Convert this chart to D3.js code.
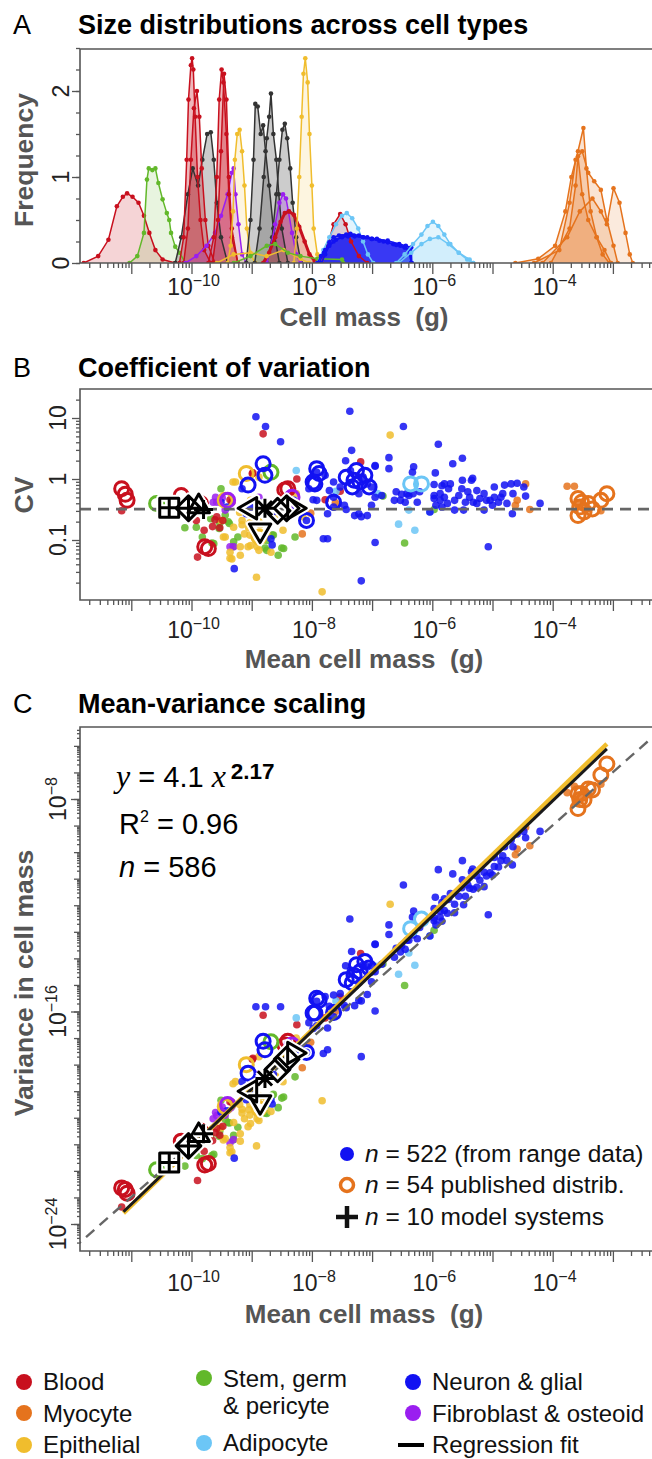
<!DOCTYPE html>
<html>
<head>
<meta charset="utf-8">
<script src="https://cdn.jsdelivr.net/npm/d3@7"></script>
<style>
  body { margin: 0; background: #fff; }
  svg text { font-family: "Liberation Sans", Arial, Helvetica, sans-serif; }
</style>
</head>
<body>
<div id="fig"></div>
<script>
// ---------- data (log10 mass in g, frequency) for panel A ----------
var distBloodWide = [[-11.79,0],[-11.55,0.08],[-11.38,0.27],[-11.24,0.66],[-11.14,0.77],[-11.07,0.81],[-10.98,0.77],[-10.88,0.70],[-10.79,0.55],[-10.70,0.35],[-10.60,0.15],[-10.48,0.04],[-10.27,0]];
var distStemA = [[-11.03,0],[-10.9,0.08],[-10.79,0.35],[-10.74,0.97],[-10.71,1.1],[-10.65,1.08],[-10.6,1.1],[-10.55,0.93],[-10.48,0.74],[-10.41,0.58],[-10.37,0.5],[-10.34,0.35],[-10.27,0.19],[-10.2,0.12],[-10.1,0]];
var distBloodA1 = [[-10.20,0],[-10.13,0.3],[-10.08,1.2],[-10.05,1.9],[-10.01,2.3],[-9.99,2.38],[-9.97,2.25],[-9.94,1.7],[-9.90,1.0],[-9.85,0.5],[-9.79,0.15],[-9.68,0]];
var distBloodA2 = [[-10.13,0],[-10.06,0.4],[-10.01,1.2],[-9.96,1.8],[-9.91,2.0],[-9.87,1.7],[-9.83,1.1],[-9.77,0.5],[-9.72,0.2],[-9.61,0]];
var distBloodA3 = [[-9.72,0],[-9.63,0.3],[-9.58,1.0],[-9.54,1.9],[-9.50,2.25],[-9.47,2.1],[-9.42,1.5],[-9.38,0.8],[-9.33,0.3],[-9.23,0]];
var distBloodA4 = [[-9.65,0],[-9.56,0.5],[-9.51,1.3],[-9.46,2.2],[-9.42,1.9],[-9.38,1.0],[-9.33,0.4],[-9.23,0]];
var distModel1 = [[-10.27,0],[-10.17,0.3],[-10.06,0.8],[-9.98,1.1],[-9.89,0.9],[-9.82,1.2],[-9.74,1.5],[-9.68,1.52],[-9.63,1.2],[-9.58,0.7],[-9.51,0.3],[-9.40,0]];
var distModel2 = [[-9.09,0],[-9.02,0.5],[-8.97,1.2],[-8.94,1.85],[-8.90,1.82],[-8.85,1.5],[-8.81,1.6],[-8.77,1.3],[-8.71,0.9],[-8.64,0.4],[-8.54,0]];
var distModel3 = [[-8.95,0],[-8.87,0.4],[-8.80,1.0],[-8.75,1.45],[-8.71,1.7],[-8.68,1.97],[-8.64,1.5],[-8.59,1.2],[-8.55,0.8],[-8.50,0.4],[-8.40,0]];
var distModel4 = [[-8.75,0],[-8.66,0.3],[-8.59,0.8],[-8.54,1.2],[-8.49,1.55],[-8.45,1.62],[-8.41,1.45],[-8.36,1.1],[-8.32,0.7],[-8.26,0.3],[-8.18,0]];
var distEpiA1 = [[-9.40,0],[-9.35,0.2],[-9.31,0.6],[-9.28,1.2],[-9.24,1.5],[-9.20,1.55],[-9.16,1.3],[-9.12,0.9],[-9.08,0.4],[-9.02,0.1],[-8.94,0]];
var distEpiA2 = [[-8.30,0],[-8.25,0.4],[-8.21,1.0],[-8.17,1.7],[-8.14,2.2],[-8.11,2.38],[-8.07,2.1],[-8.04,1.5],[-8.00,0.9],[-7.97,0.4],[-7.91,0.1],[-7.84,0]];
var distEpiA3 = [[-9.58,0],[-9.30,0.1],[-9.02,0.12],[-8.75,0.08],[-8.47,0.15],[-8.19,0.05],[-8.05,0]];
var distFibroA1 = [[-10.10,0],[-9.92,0.08],[-9.75,0.2],[-9.61,0.35],[-9.51,0.55],[-9.40,0.8],[-9.33,1.05],[-9.30,1.1],[-9.27,0.8],[-9.22,0.45],[-9.16,0.1],[-9.09,0]];
var distFibroA2 = [[-8.75,0],[-8.68,0.2],[-8.61,0.45],[-8.54,0.7],[-8.48,0.8],[-8.43,0.75],[-8.39,0.6],[-8.33,0.35],[-8.26,0.1],[-8.19,0]];
var distBloodA5 = [[-8.81,0],[-8.71,0.12],[-8.61,0.3],[-8.52,0.48],[-8.45,0.58],[-8.38,0.6],[-8.30,0.56],[-8.21,0.42],[-8.12,0.25],[-8.04,0.1],[-7.95,0.02],[-7.88,0]];
var distStemA2 = [[-9.30,0],[-9.02,0.08],[-8.75,0.2],[-8.61,0.22],[-8.40,0.12],[-8.19,0.08],[-7.91,0.05],[-7.50,0.04],[-7.48,0]];
var distAdipoA1 = [[-7.91,0],[-7.81,0.15],[-7.71,0.3],[-7.60,0.45],[-7.50,0.55],[-7.42,0.58],[-7.33,0.52],[-7.23,0.4],[-7.15,0.25],[-7.07,0.1],[-6.98,0]];
var distAdipoA2 = [[-6.60,0],[-6.46,0.1],[-6.32,0.22],[-6.18,0.33],[-6.08,0.43],[-5.99,0.48],[-5.90,0.43],[-5.80,0.33],[-5.70,0.22],[-5.56,0.12],[-5.42,0.04],[-5.32,0]];
var distAdipoA3 = [[-6.56,0],[-6.35,0.12],[-6.18,0.22],[-6.04,0.28],[-5.90,0.3],[-5.73,0.22],[-5.56,0.12],[-5.38,0.04],[-5.32,0]];
var distBloodA6 = [[-7.84,0],[-7.74,0.2],[-7.64,0.45],[-7.53,0.57],[-7.44,0.45],[-7.35,0.25],[-7.22,0.08],[-7.08,0]];
var distNeuronA1 = [[-7.91,0],[-7.85,0.08],[-7.78,0.15],[-7.71,0.24],[-7.64,0.3],[-7.55,0.32],[-7.43,0.33],[-7.30,0.32],[-7.15,0.3],[-7.0,0.28],[-6.81,0.25],[-6.65,0.22],[-6.53,0.2],[-6.45,0.18],[-6.39,0.15],[-6.35,0]];
var distNeuronA2 = [[-7.84,0],[-7.78,0.1],[-7.71,0.2],[-7.60,0.27],[-7.50,0.3],[-7.40,0.31],[-7.29,0.31],[-7.15,0.3],[-7.01,0.28],[-6.88,0.26],[-6.74,0.24],[-6.60,0.21],[-6.46,0.18],[-6.38,0.16],[-6.35,0]];
var distNeuronA3 = [[-7.88,0],[-7.80,0.12],[-7.72,0.2],[-7.64,0.25],[-7.50,0.31],[-7.36,0.34],[-7.22,0.32],[-7.08,0.3],[-6.92,0.28],[-6.74,0.26],[-6.55,0.22],[-6.44,0.2],[-6.35,0.18],[-6.34,0]];
var distMyoA1 = [[-4.62,0],[-4.24,0.05],[-3.96,0.2],[-3.79,0.6],[-3.69,1.0],[-3.58,1.3],[-3.49,1.57],[-3.44,1.1],[-3.37,0.6],[-3.27,0.3],[-3.17,0.1],[-3.06,0]];
var distMyoA2 = [[-4.31,0],[-3.89,0.15],[-3.72,0.7],[-3.62,1.2],[-3.51,1.3],[-3.41,1.05],[-3.31,0.95],[-3.20,0.85],[-3.10,0.5],[-2.99,0.2],[-2.92,0]];
var distMyoA3 = [[-4.17,0],[-3.76,0.3],[-3.55,0.6],[-3.34,0.75],[-3.20,0.6],[-3.10,0.45],[-2.99,0.87],[-2.89,0.7],[-2.79,0.35],[-2.72,0.1],[-2.67,0]];
var distMyoA4 = [[-4.03,0],[-3.72,0.4],[-3.62,0.9],[-3.58,1.24],[-3.51,0.8],[-3.41,0.5],[-3.27,0.3],[-3.14,0.15],[-3.03,0]];

// ---------- data (log10 mean mass, log10 CV) for panels B and C ----------
var neuronRange = [[-8.93,1.02],[-8.77,0.86],[-8.52,0.61],[-7.37,1.11],[-6.48,0.86],[-5.90,0.57],[-7.34,0.47],[-7.44,0.30],[-6.72,0.35],[-6.72,0.17],[-5.66,0.25],[-5.50,0.34],[-5.95,0.10],[-6.95,0.21],[-6.31,0.20],[-6.33,0.11],[-5.33,0.01],[-5.70,-0.08],[-5.84,-0.11],[-5.51,-0.16],[-6.60,-0.21],[-6.63,-0.35],[-6.51,-0.25],[-6.42,-0.24],[-6.32,-0.24],[-6.25,-0.38],[-5.97,-0.32],[-5.87,-0.35],[-5.80,-0.30],[-5.75,-0.40],[-5.63,-0.35],[-5.56,-0.27],[-5.45,-0.38],[-5.38,-0.30],[-5.32,-0.38],[-5.21,-0.32],[-5.14,-0.24],[-5.04,-0.35],[-4.97,-0.30],[-4.90,-0.38],[-4.83,-0.24],[-4.80,-0.10],[-4.69,-0.08],[-4.59,-0.07],[-4.48,-0.13],[-4.45,-0.28],[-4.67,-0.57],[-4.76,-0.40],[-5.14,-0.51],[-5.10,-0.35],[-5.48,-0.51],[-5.63,-0.51],[-5.84,-0.46],[-5.94,-0.43],[-6.04,-0.54],[-4.21,-0.40],[-5.07,-1.11],[-6.95,-1.04],[-7.18,-1.67],[-9.29,-1.47],[-7.74,-0.98],[-7.81,-0.98],[-7.92,-0.35],[-7.74,-0.57],[-7.43,-0.50],[-7.29,-0.60],[-7.22,-0.57],[-6.95,-0.30],[-6.84,-0.27],[-7.01,-0.43],[-7.92,0.11],[-7.78,0.06],[-7.64,-0.05],[-7.71,-0.19],[-7.53,-0.13],[-7.64,-0.30],[-7.36,0.14],[-7.15,0.03],[-7.08,-0.08],[-7.01,-0.13],[-7.22,-0.24],[-6.95,0.22],[-8.30,-0.35],[-8.26,-0.46],[-8.09,-0.68],[-8.68,-0.98],[-8.64,-0.54],[-8.05,-0.16],[-9.09,-0.57],[-9.02,-0.46],[-8.88,-0.38],[-9.16,-0.16],[-9.41,-0.46],[-9.51,-0.38],[-5.97,-0.09],[-5.87,-0.24],[-5.73,-0.16],[-5.41,-0.21],[-5.26,-0.19],[-4.97,-0.13],[-4.86,-0.30],[-4.66,-0.24],[-5.00,-0.43],[-6.21,-0.21],[-6.45,-0.38],[-6.53,-0.35],[-6.39,-0.27],[-5.97,-0.27],[-5.50,-0.02],[-5.35,-0.02],[-5.80,-0.08],[-5.26,-0.40],[-7.08,-0.60],[-7.18,-0.62],[-7.46,-0.43],[-7.64,-0.46],[-8.66,-1.08],[-7.98,-0.34]];
var bloodRange = [[-11.16,-0.52],[-8.81,0.74],[-8.25,0.0],[-8.99,0.09],[-7.19,0.28],[-7.53,-0.20],[-9.90,-1.28],[-9.33,-0.38],[-9.58,-0.62],[-9.79,-0.84],[-9.92,-0.68],[-10.13,-0.46],[-9.65,-0.78],[-9.48,-0.68],[-9.75,-0.51],[-9.36,-0.34],[-9.53,-0.80],[-9.61,-0.67],[-8.98,0.10],[-7.78,-0.34]];
var myocyteRange = [[-3.76,-0.12],[-3.64,-0.12],[-4.45,-0.08],[-4.59,-0.35],[-4.38,-0.50],[-4.62,-0.43],[-8.02,-0.56],[-7.61,-0.39],[-8.16,-0.90],[-3.41,-0.49],[-3.20,-0.52],[-3.55,-0.40]];
var epithelialRange = [[-6.70,0.72],[-8.92,-1.61],[-7.83,-1.85],[-9.33,-1.31],[-9.36,-1.20],[-9.19,-1.11],[-9.02,-1.09],[-8.88,-1.17],[-8.68,-1.20],[-9.12,-0.90],[-9.30,-0.79],[-9.16,-0.68],[-8.88,-0.70],[-9.44,-0.95],[-9.02,-0.35],[-8.88,0.03],[-8.26,-0.24],[-9.27,-0.05],[-9.51,-0.68],[-8.75,-0.90],[-9.20,-0.55],[-9.05,-0.80],[-8.60,-0.62],[-9.31,-0.05],[-9.16,-0.75],[-9.03,-0.72],[-9.06,-1.11],[-8.91,-1.11],[-9.36,-1.30],[-9.19,-1.25],[-9.47,-0.95],[-8.86,-0.75],[-9.03,-0.92],[-8.48,-0.84],[-8.15,-0.62]];
var stemRange = [[-9.51,-0.16],[-9.82,-0.95],[-9.63,-1.06],[-9.30,-1.03],[-8.75,-1.17],[-8.47,-1.14],[-8.75,-1.01],[-8.64,-0.92],[-6.46,-1.05],[-5.97,-0.50],[-6.82,-0.28],[-9.37,-0.73],[-9.54,-0.81],[-9.92,-0.79],[-9.68,-0.65],[-10.11,-0.80],[-9.66,-1.05],[-9.39,-0.70],[-9.23,-0.95],[-9.31,-1.11],[-8.78,-1.13],[-8.50,-1.13],[-8.56,-1.25],[-8.66,-0.92],[-8.28,-0.95],[-9.44,-0.59],[-9.53,-0.72]];
var adipocyteRange = [[-8.26,0.14],[-6.56,-0.74],[-6.29,-0.84],[-6.04,-0.54],[-6.39,-0.51],[-6.91,-0.24],[-7.60,-0.20]];
var fibroRange = [[-9.58,-0.38],[-9.30,-1.11],[-8.33,-0.51],[-8.88,-0.30],[-9.44,-0.51],[-9.60,-0.30],[-9.64,-0.38],[-9.36,-1.11],[-9.49,-0.31]];

var neuronPub = [[-8.81,0.25],[-8.78,0.06],[-9.06,-0.10],[-7.92,0.17],[-7.88,0.09],[-7.95,-0.08],[-7.43,0.03],[-7.26,0.14],[-7.12,0.06],[-7.05,-0.13],[-7.33,-0.13],[-7.64,-0.38],[-8.09,-0.68],[-7.30,-0.02],[-7.20,-0.05],[-7.98,-0.05]];
var myocytePub = [[-3.58,-0.32],[-3.55,-0.46],[-3.58,-0.60],[-3.41,-0.40],[-3.34,-0.49],[-3.20,-0.35],[-3.10,-0.24],[-3.48,-0.54],[-3.52,-0.38]];
var bloodPub = [[-11.16,-0.16],[-11.10,-0.25],[-11.07,-0.35],[-9.72,-1.14],[-10.17,-0.27],[-8.40,-0.16],[-9.85,-0.40],[-9.78,-1.11],[-8.45,-0.18]];
var epithelialPub = [[-9.09,0.09],[-9.44,-0.35],[-8.88,-0.95]];
var stemPub = [[-10.58,-0.40],[-8.68,0.11]];
var adipocytePub = [[-6.36,-0.08],[-6.18,-0.08]];
var fibroPub = [[-9.40,-0.35],[-8.33,-0.30]];

var modelSystems = [[-10.37,-0.47,"sqplus"],[-10.05,-0.48,"diamondplus"],[-9.88,-0.45,"triup"],[-9.80,-0.50,"plus"],[-9.02,-0.48,"trileft"],[-8.86,-0.84,"tridown"],[-8.78,-0.48,"asterisk"],[-8.57,-0.52,"diamond"],[-8.42,-0.48,"diamond"],[-8.30,-0.48,"triright"]];

var dashCV = 0.32;
var fitCoef = 4.1, fitExp = 2.17, fitRange = [-11.13, -3.1];
var fit2Coef = 7.9, fit2Exp = 2.2;
var xTickExps = [-10, -8, -6, -4];

var colors = {
  blood: "#c8101e", myocyte: "#e5731d", epithelial: "#f0bd2d", stem: "#62b82a",
  adipocyte: "#6cc6f6", neuron: "#1212f2", fibro: "#9a1ef0", model: "#222"
};

// ---------- svg setup ----------
var svgWidth = 652, svgHeight = 1459;
var boxLeft = 80, boxRight = 664;
var svg = d3.select("#fig").append("svg")
  .attr("width", svgWidth).attr("height", svgHeight);

var xScale = d3.scaleLog().domain([1e-12, 1e-2]).range([71.1, 673.1]);
function xm(l) { return xScale(Math.pow(10, l)); }

var panelA = { top: 49, bottom: 263 };
var panelB = { top: 389, bottom: 600 };
var panelC = { top: 727, bottom: 1251 };

var yA = d3.scaleLinear().domain([0, 2.5]).range([263, 48]);
var yB = d3.scaleLog().domain([0.1, 10]).range([540, 418]);
var yC = d3.scaleLog().domain([1e-24, 1e-8]).range([1224, 799]);

function clip(id, p) {
  svg.append("clipPath").attr("id", id).append("rect")
    .attr("x", boxLeft).attr("y", p.top - 12).attr("width", boxRight - boxLeft)
    .attr("height", p.bottom - p.top + 12);
}
clip("clipA", panelA); clip("clipB", panelB); clip("clipC", panelC);

function panelTitle(letter, title, base) {
  svg.append("text").attr("x", 13).attr("y", base).attr("font-size", 27).text(letter);
  svg.append("text").attr("x", 78).attr("y", base).attr("font-size", 27)
    .attr("font-weight", "bold").text(title);
}

function box(p) {
  svg.append("path")
    .attr("d", `M${boxRight},${p.top}H${boxLeft}V${p.bottom}H${boxRight}`)
    .attr("fill", "none").attr("stroke", "#555").attr("stroke-width", 1.6);
}

function powLabel(g, x, y, exp, rot) {
  var t = g.append("text").attr("text-anchor", "middle").attr("font-size", 23)
    .attr("fill", "#222")
    .attr("transform", `translate(${x},${y})` + (rot ? " rotate(-90)" : ""));
  t.append("tspan").text("10");
  t.append("tspan").attr("font-size", 16).attr("dy", -9).text("\u2212" + Math.abs(exp));
}

function styleAxis(sel) {
  sel.select(".domain").remove();
  sel.selectAll("line").attr("stroke", "#555").attr("stroke-width", 1.3);
}

function drawXAxis(p, labelBase, title, titleBase) {
  var minorVals = [], majorVals = [];
  for (var k = -12; k <= -3; k++) {
    majorVals.push(Math.pow(10, k));
    for (var m = 2; m <= 9; m++) minorVals.push(m * Math.pow(10, k));
  }
  var inside = v => xScale(v) > boxLeft + 2 && xScale(v) < svgWidth + 5;
  svg.append("g").attr("transform", `translate(0,${p.bottom})`)
    .call(d3.axisBottom(xScale).tickValues(minorVals.filter(inside)).tickSize(5).tickFormat(""))
    .call(styleAxis);
  svg.append("g").attr("transform", `translate(0,${p.bottom})`)
    .call(d3.axisBottom(xScale).tickValues(majorVals.filter(inside)).tickSize(11).tickFormat(""))
    .call(styleAxis);
  xTickExps.forEach(e => powLabel(svg, xScale(Math.pow(10, e)) + 2, labelBase, e, false));
  svg.append("text").attr("x", 364).attr("y", titleBase).attr("text-anchor", "middle")
    .attr("font-size", 26).attr("font-weight", "bold").attr("fill", "#555").text(title);
}

function yTitle(text, cy) {
  svg.append("text").attr("transform", `translate(33,${cy}) rotate(-90)`)
    .attr("text-anchor", "middle").attr("font-size", 26.5).attr("font-weight", "bold")
    .attr("fill", "#555").text(text);
}

// ================= Panel A =================
panelTitle("A", "Size distributions across cell types", 34);

var gA = svg.append("g").attr("clip-path", "url(#clipA)");
var areaA = d3.area().x(d => xm(d[0])).y0(yA(0)).y1(d => yA(d[1]));
var lineA = d3.line().x(d => xm(d[0])).y(d => yA(d[1]));

var curvesA = [
  [distBloodWide, colors.blood, 0.18], [distStemA, colors.stem, 0.15],
  [distModel1, "#333", 0.25], [distBloodA1, colors.blood, 0.3], [distBloodA2, colors.blood, 0.3],
  [distFibroA1, colors.fibro, 0.2], [distBloodA3, colors.blood, 0.3], [distBloodA4, colors.blood, 0.3],
  [distEpiA1, colors.epithelial, 0.15], [distModel2, "#333", 0.25], [distModel3, "#333", 0.25],
  [distModel4, "#333", 0.25], [distFibroA2, colors.fibro, 0.25], [distBloodA5, colors.blood, 0.3],
  [distEpiA2, colors.epithelial, 0.15], [distEpiA3, colors.epithelial, 0.1], [distStemA2, colors.stem, 0.1],
  [distBloodA6, colors.blood, 0.2], [distAdipoA1, colors.adipocyte, 0.2],
  [distNeuronA1, colors.neuron, 0.45], [distNeuronA2, colors.neuron, 0.45], [distNeuronA3, colors.neuron, 0.45],
  [distAdipoA2, colors.adipocyte, 0.18], [distAdipoA3, colors.adipocyte, 0.15],
  [distMyoA1, colors.myocyte, 0.2], [distMyoA2, colors.myocyte, 0.2], [distMyoA3, colors.myocyte, 0.15],
  [distMyoA4, colors.myocyte, 0.2]
];
curvesA.forEach(function(c) {
  gA.append("path").attr("d", areaA(c[0])).attr("fill", c[1]).attr("fill-opacity", c[2]);
});
curvesA.forEach(function(c) {
  var thick = c[0] === distBloodA5 ? 3 : 1.5;
  gA.append("path").attr("d", lineA(c[0])).attr("fill", "none")
    .attr("stroke", c[1]).attr("stroke-width", thick);
  gA.selectAll(null).data(c[0]).enter().append("circle")
    .attr("cx", d => xm(d[0])).attr("cy", d => yA(d[1])).attr("r", 2.3)
    .attr("fill", c[1]);
});

box(panelA);
svg.append("g").attr("transform", `translate(${boxLeft},0)`)
  .call(d3.axisLeft(yA).tickValues(d3.range(0, 2.51, 0.25)).tickSize(4).tickFormat(""))
  .call(styleAxis);
svg.append("g").attr("transform", `translate(${boxLeft},0)`)
  .call(d3.axisLeft(yA).tickValues([0, 1, 2]).tickSize(8).tickFormat(""))
  .call(styleAxis);
[0, 1, 2].forEach(v => svg.append("text").attr("transform", `translate(69,${yA(v)}) rotate(-90)`)
  .attr("text-anchor", "middle").attr("font-size", 23).attr("fill", "#222").text(v));
drawXAxis(panelA, 295, "Cell mass\u00a0\u00a0(g)", 326);
yTitle("Frequency", 160);

// ================= scatter helpers =================
var rangeSets = [
  [stemRange, colors.stem], [fibroRange, colors.fibro], [epithelialRange, colors.epithelial],
  [bloodRange, colors.blood], [myocyteRange, colors.myocyte], [adipocyteRange, colors.adipocyte],
  [neuronRange, colors.neuron]
];
var pubSets = [
  [bloodPub, colors.blood], [stemPub, colors.stem], [epithelialPub, colors.epithelial],
  [fibroPub, colors.fibro], [adipocytePub, colors.adipocyte], [neuronPub, colors.neuron],
  [myocytePub, colors.myocyte]
];

function glyphPath(shape, s) {
  var p = d3.path();
  if (shape === "sqplus") {
    p.rect(-s, -s, 2 * s, 2 * s);
    p.moveTo(-s, 0); p.lineTo(s, 0); p.moveTo(0, -s); p.lineTo(0, s);
  } else if (shape === "diamondplus" || shape === "diamond") {
    var r = s * 1.3;
    p.moveTo(0, -r); p.lineTo(r, 0); p.lineTo(0, r); p.lineTo(-r, 0); p.closePath();
    if (shape === "diamondplus") { p.moveTo(-r, 0); p.lineTo(r, 0); p.moveTo(0, -r); p.lineTo(0, r); }
  } else if (shape.indexOf("tri") === 0) {
    var r2 = s * 1.3, ang = { triup: -90, tridown: 90, trileft: 180, triright: 0 }[shape];
    for (var i = 0; i < 3; i++) {
      var a = (ang + i * 120) * Math.PI / 180;
      if (i === 0) p.moveTo(r2 * Math.cos(a), r2 * Math.sin(a));
      else p.lineTo(r2 * Math.cos(a), r2 * Math.sin(a));
    }
    p.closePath();
  } else if (shape === "plus") {
    p.moveTo(-s, 0); p.lineTo(s, 0); p.moveTo(0, -s); p.lineTo(0, s);
  } else if (shape === "asterisk") {
    var q = s * 0.75;
    p.moveTo(-s, 0); p.lineTo(s, 0); p.moveTo(0, -s); p.lineTo(0, s);
    p.moveTo(-q, -q); p.lineTo(q, q); p.moveTo(-q, q); p.lineTo(q, -q);
  }
  return p.toString();
}

function drawScatter(g, yOf) {
  rangeSets.forEach(function(set) {
    g.selectAll(null).data(set[0]).enter().append("circle")
      .attr("cx", d => xm(d[0])).attr("cy", d => yOf(d)).attr("r", 3.8)
      .attr("fill", set[1]).attr("fill-opacity", 0.85);
  });
  pubSets.forEach(function(set) {
    g.selectAll(null).data(set[0]).enter().append("circle")
      .attr("cx", d => xm(d[0])).attr("cy", d => yOf(d)).attr("r", 7)
      .attr("fill", "none").attr("stroke", set[1]).attr("stroke-width", 3);
  });
}
function drawModels(g, yOf) {
  [["#fff", 7], ["#000", 3]].forEach(function(st) {
    g.selectAll(null).data(modelSystems).enter().append("path")
      .attr("transform", d => `translate(${xm(d[0])},${yOf(d)})`)
      .attr("d", d => glyphPath(d[2], 9.5))
      .attr("fill", "none").attr("stroke", st[0]).attr("stroke-width", st[1])
      .attr("stroke-linejoin", "round");
  });
}

// ================= Panel B =================
panelTitle("B", "Coefficient of variation", 377);
var gB = svg.append("g").attr("clip-path", "url(#clipB)");
var yOfB = d => yB(Math.pow(10, d[1]));
drawScatter(gB, yOfB);
gB.append("line").attr("x1", boxLeft).attr("x2", boxRight)
  .attr("y1", yB(dashCV)).attr("y2", yB(dashCV))
  .attr("stroke", "#666").attr("stroke-width", 2.8).attr("stroke-dasharray", "11,7");
drawModels(gB, yOfB);

box(panelB);
var bMinor = [];
[0.01, 0.1, 1, 10].forEach(dec => { for (var m = 2; m <= 9; m++) bMinor.push(m * dec); });
bMinor = bMinor.filter(v => yB(v) > panelB.top + 2 && yB(v) < panelB.bottom - 2);
svg.append("g").attr("transform", `translate(${boxLeft},0)`)
  .call(d3.axisLeft(yB).tickValues(bMinor).tickSize(4).tickFormat("")).call(styleAxis);
svg.append("g").attr("transform", `translate(${boxLeft},0)`)
  .call(d3.axisLeft(yB).tickValues([0.1, 1, 10]).tickSize(8).tickFormat("")).call(styleAxis);
[[0.1, "0.1"], [1, "1"], [10, "10"]].forEach(v => svg.append("text")
  .attr("transform", `translate(66,${yB(v[0])}) rotate(-90)`)
  .attr("text-anchor", "middle").attr("font-size", 23).attr("fill", "#222").text(v[1]));
drawXAxis(panelB, 638, "Mean cell mass\u00a0\u00a0(g)", 668);
yTitle("CV", 495);

// ================= Panel C =================
panelTitle("C", "Mean-variance scaling", 713);
var gC = svg.append("g").attr("clip-path", "url(#clipC)");
var yOfC = d => yC(Math.pow(10, 2 * (d[0] + d[1])));
drawScatter(gC, yOfC);

var dashLine = d3.line().x(l => xm(l)).y(l => yC(Math.pow(dashCV * Math.pow(10, l), 2)));
gC.append("path").attr("d", dashLine([-12.2, -1.9])).attr("fill", "none")
  .attr("stroke", "#666").attr("stroke-width", 2.4).attr("stroke-dasharray", "11,7");
var fit2Line = d3.line().x(l => xm(l)).y(l => yC(fit2Coef * Math.pow(Math.pow(10, l), fit2Exp)));
gC.append("path").attr("d", fit2Line(fitRange)).attr("fill", "none")
  .attr("stroke", colors.epithelial).attr("stroke-width", 4.5);
var fitLine = d3.line().x(l => xm(l)).y(l => yC(fitCoef * Math.pow(Math.pow(10, l), fitExp)));
gC.append("path").attr("d", fitLine(fitRange)).attr("fill", "none")
  .attr("stroke", "#1a1a1a").attr("stroke-width", 3);
drawModels(gC, yOfC);

box(panelC);
var cMinor = [], cMajor = [];
for (var k = -26; k <= -5; k++) {
  cMajor.push(Math.pow(10, k));
  for (var m = 2; m <= 9; m++) cMinor.push(m * Math.pow(10, k));
}
var inC = v => yC(v) > panelC.top + 2 && yC(v) < panelC.bottom - 2;
svg.append("g").attr("transform", `translate(${boxLeft},0)`)
  .call(d3.axisLeft(yC).tickValues(cMinor.filter(inC)).tickSize(3).tickFormat("")).call(styleAxis);
svg.append("g").attr("transform", `translate(${boxLeft},0)`)
  .call(d3.axisLeft(yC).tickValues(cMajor.filter(inC)).tickSize(6).tickFormat("")).call(styleAxis);
svg.append("g").attr("transform", `translate(${boxLeft},0)`)
  .call(d3.axisLeft(yC).tickValues([1e-24, 1e-16, 1e-8]).tickSize(9).tickFormat("")).call(styleAxis);
[-24, -16, -8].forEach(e => powLabel(svg, 66, yC(Math.pow(10, e)), e, true));
drawXAxis(panelC, 1291, "Mean cell mass\u00a0\u00a0(g)", 1323);
yTitle("Variance in cell mass", 983);

// equation block
var eq = svg.append("text").attr("x", 116).attr("y", 787).attr("font-size", 29);
eq.append("tspan").attr("font-family", "'Liberation Serif', 'Times New Roman', serif")
  .attr("font-style", "italic").attr("font-size", 32).text("y");
eq.append("tspan").text(" = " + fitCoef + " ");
eq.append("tspan").attr("font-family", "'Liberation Serif', 'Times New Roman', serif")
  .attr("font-style", "italic").attr("font-size", 32).text("x");
eq.append("tspan").attr("font-weight", "bold").attr("font-size", 22.5).attr("dx", 5).attr("dy", -8).text(fitExp);

var r2 = svg.append("text").attr("x", 119).attr("y", 834).attr("font-size", 29);
r2.append("tspan").text("R");
r2.append("tspan").attr("font-size", 16).attr("dy", -12).text("2");
r2.append("tspan").attr("dy", 12).text(" = 0.96");

var nTxt = svg.append("text").attr("x", 119).attr("y", 877).attr("font-size", 29);
nTxt.append("tspan").attr("font-style", "italic").text("n");
nTxt.append("tspan").text(" = 586");

// legend inside C
var legC = [
  ["dot", colors.neuron, "522 (from range data)", 1162],
  ["ring", colors.myocyte, "54 published distrib.", 1193],
  ["plus", "#111", "10 model systems", 1225]
];
legC.forEach(function(d) {
  var cy = d[3] - 8;
  if (d[0] === "dot") svg.append("circle").attr("cx", 347).attr("cy", cy).attr("r", 7).attr("fill", d[1]);
  else if (d[0] === "ring") svg.append("circle").attr("cx", 347).attr("cy", cy).attr("r", 6.5)
    .attr("fill", "none").attr("stroke", d[1]).attr("stroke-width", 3.5);
  else svg.append("path").attr("d", `M336,${cy}H358M347,${cy - 11}V${cy + 11}`)
    .attr("stroke", d[1]).attr("stroke-width", 4.5);
  var t = svg.append("text").attr("x", 365).attr("y", d[3]).attr("font-size", 24.5).attr("fill", "#111");
  t.append("tspan").attr("font-style", "italic").text("n");
  t.append("tspan").text(" = " + d[2]);
});

// ================= bottom legend =================
var legendItems = [
  ["Blood", colors.blood, 24, 1382, ["Blood"], 1390],
  ["Myocyte", colors.myocyte, 24, 1413, ["Myocyte"], 1422],
  ["Epithelial", colors.epithelial, 24, 1445, ["Epithelial"], 1453],
  ["Stem", colors.stem, 204, 1378, ["Stem, germ", "& pericyte"], 1387],
  ["Adipocyte", colors.adipocyte, 204, 1443, ["Adipocyte"], 1451],
  ["Neuron", colors.neuron, 413, 1382, ["Neuron & glial"], 1390],
  ["Fibro", colors.fibro, 413, 1413, ["Fibroblast & osteoid"], 1422]
];
legendItems.forEach(function(d) {
  svg.append("circle").attr("cx", d[2]).attr("cy", d[3]).attr("r", 8).attr("fill", d[1]);
  d[4].forEach(function(line, i) {
    svg.append("text").attr("x", d[2] + 19).attr("y", d[5] + i * 27)
      .attr("font-size", 24).attr("fill", "#111").text(line);
  });
});
svg.append("line").attr("x1", 398).attr("x2", 424).attr("y1", 1445).attr("y2", 1445)
  .attr("stroke", "#000").attr("stroke-width", 4);
svg.append("text").attr("x", 432).attr("y", 1453).attr("font-size", 24).attr("fill", "#111")
  .text("Regression fit");
</script>
</body>
</html>
